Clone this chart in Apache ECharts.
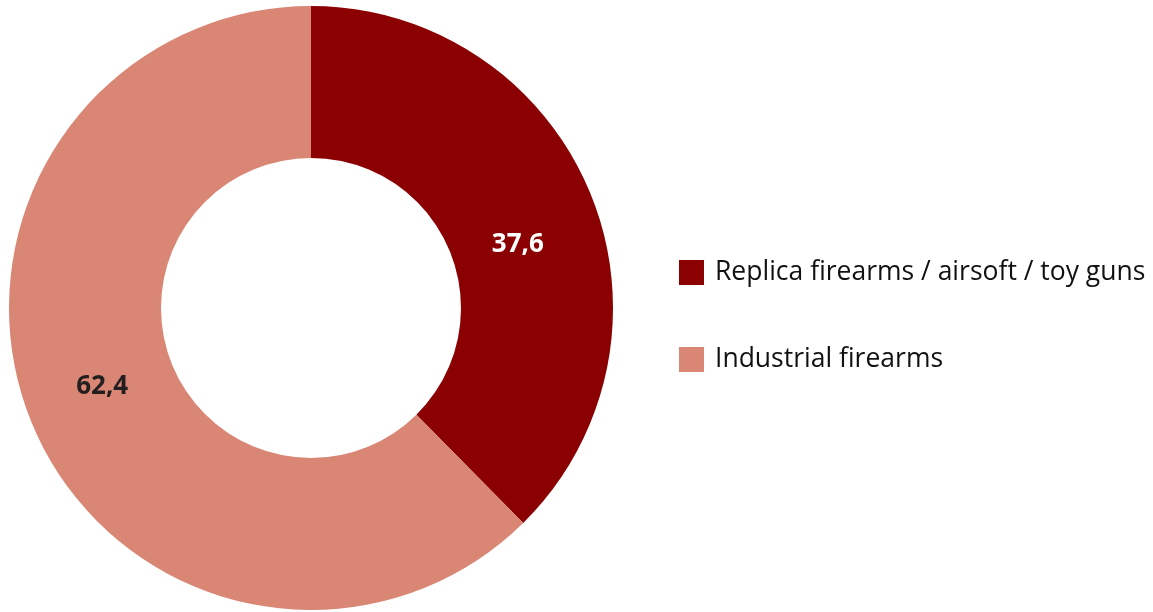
<!DOCTYPE html>
<html>
<head>
<meta charset="utf-8">
<script src="https://cdn.jsdelivr.net/npm/echarts@6/dist/echarts.min.js"></script>
<style>
  html, body { margin: 0; padding: 0; background: #fff; }
  #chart { width: 1153px; height: 612px; }
</style>
</head>
<body>
<div id="chart"></div>
<script>
const categories = ['Replica firearms / airsoft / toy guns', 'Industrial firearms'];
const values = [37.6, 62.4];
const colors = ['#8b0000', '#d98675'];
const labelColors = ['#ffffff', '#231f20'];
// nudge labels to sit where the original puts them
const labelOffsets = [[-5, 24], [3, -8]];

const chart = echarts.init(document.getElementById('chart'));

const seriesData = categories.map((name, i) => ({
  name: name,
  value: values[i],
  itemStyle: { color: colors[i] },
  label: { color: labelColors[i], offset: labelOffsets[i] }
}));

const option = {
  animation: false,
  legend: {
    orient: 'vertical',
    left: 679,
    top: 259,
    padding: 0,
    itemWidth: 25,
    itemHeight: 25,
    itemGap: 60,
    icon: 'rect',
    textStyle: {
      fontFamily: 'Open Sans',
      fontSize: 26.5,
      color: '#111',
      padding: [0, 0, 0, 6]
    },
    data: categories
  },
  series: [
    {
      type: 'pie',
      center: [311, 308],
      radius: [150, 302],
      startAngle: 90,
      clockwise: true,
      data: seriesData,
      label: {
        show: true,
        position: 'inside',
        fontFamily: 'Open Sans',
        fontWeight: 'bold',
        fontSize: 26,
        formatter: (p) => String(p.value).replace('.', ',')
      },
      labelLine: { show: false },
      emphasis: { disabled: true }
    }
  ]
};
chart.setOption(option);
</script>
</body>
</html>
